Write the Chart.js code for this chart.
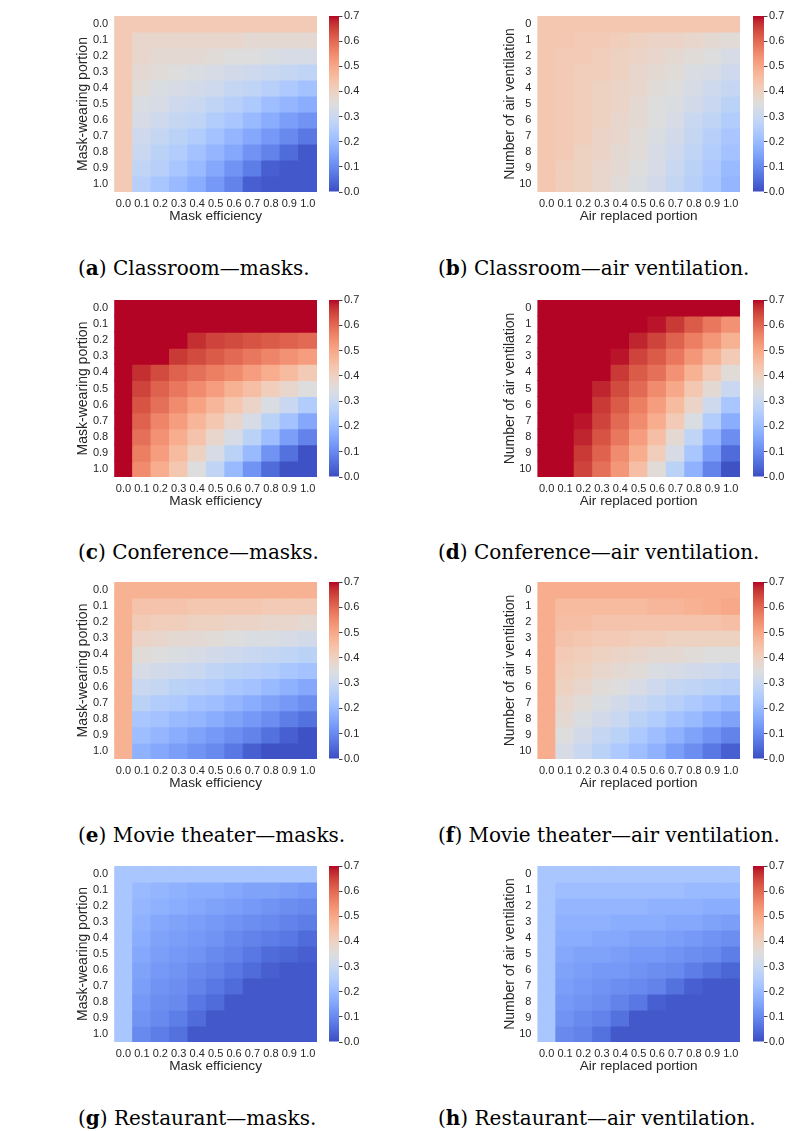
<!DOCTYPE html>
<html>
<head>
<meta charset="utf-8">
<script src="https://cdn.jsdelivr.net/npm/chart.js@4.4.1/dist/chart.umd.min.js"></script>
<style>
  html, body { margin: 0; padding: 0; background: #fff; }
  #page { position: relative; width: 793px; height: 1131px; overflow: hidden; }
  canvas { position: absolute; }
  .cap { position: absolute; font-family: "DejaVu Serif", serif; font-size: 20px; line-height: 24px; color: #000; white-space: nowrap; }
</style>
</head>
<body>
<div id="page"></div>
<script>
// --- tick labels ---
const portionTicks = ['0.0', '0.1', '0.2', '0.3', '0.4', '0.5', '0.6', '0.7', '0.8', '0.9', '1.0'];
const ventCountTicks = ['0', '1', '2', '3', '4', '5', '6', '7', '8', '9', '10'];
const colorbarTicks = [0.0, 0.1, 0.2, 0.3, 0.4, 0.5, 0.6, 0.7];

// --- values (rows top -> bottom, columns left -> right) ---
const classroomMasks = [
  [0.42, 0.42, 0.42, 0.42, 0.42, 0.42, 0.42, 0.42, 0.42, 0.42, 0.42],
  [0.42, 0.38, 0.38, 0.38, 0.38, 0.38, 0.38, 0.37, 0.37, 0.37, 0.37],
  [0.42, 0.38, 0.37, 0.37, 0.37, 0.36, 0.35, 0.35, 0.34, 0.33, 0.33],
  [0.42, 0.37, 0.36, 0.35, 0.34, 0.33, 0.32, 0.31, 0.30, 0.29, 0.28],
  [0.42, 0.36, 0.34, 0.33, 0.32, 0.31, 0.29, 0.28, 0.26, 0.24, 0.22],
  [0.42, 0.34, 0.33, 0.31, 0.30, 0.28, 0.26, 0.24, 0.21, 0.19, 0.17],
  [0.42, 0.33, 0.31, 0.29, 0.28, 0.25, 0.23, 0.20, 0.17, 0.14, 0.12],
  [0.42, 0.31, 0.29, 0.27, 0.25, 0.22, 0.19, 0.16, 0.13, 0.10, 0.07],
  [0.42, 0.30, 0.27, 0.25, 0.22, 0.19, 0.16, 0.12, 0.09, 0.05, 0.02],
  [0.42, 0.28, 0.26, 0.23, 0.20, 0.16, 0.12, 0.08, 0.03, 0.02, 0.02],
  [0.42, 0.26, 0.23, 0.20, 0.17, 0.13, 0.09, 0.03, 0.02, 0.02, 0.02]
];
const classroomVent = [
  [0.43, 0.43, 0.43, 0.43, 0.43, 0.43, 0.43, 0.43, 0.43, 0.43, 0.43],
  [0.43, 0.43, 0.42, 0.42, 0.41, 0.40, 0.39, 0.39, 0.38, 0.37, 0.36],
  [0.43, 0.42, 0.42, 0.41, 0.40, 0.39, 0.38, 0.37, 0.36, 0.35, 0.33],
  [0.43, 0.42, 0.41, 0.41, 0.40, 0.38, 0.37, 0.36, 0.34, 0.33, 0.31],
  [0.43, 0.42, 0.41, 0.40, 0.39, 0.38, 0.36, 0.35, 0.33, 0.31, 0.29],
  [0.43, 0.42, 0.41, 0.40, 0.39, 0.37, 0.35, 0.34, 0.32, 0.30, 0.27],
  [0.43, 0.42, 0.41, 0.40, 0.38, 0.37, 0.35, 0.33, 0.30, 0.28, 0.25],
  [0.43, 0.42, 0.41, 0.39, 0.38, 0.36, 0.34, 0.32, 0.29, 0.26, 0.23],
  [0.43, 0.42, 0.40, 0.39, 0.37, 0.36, 0.33, 0.31, 0.28, 0.25, 0.22],
  [0.43, 0.41, 0.40, 0.38, 0.37, 0.35, 0.33, 0.30, 0.27, 0.24, 0.20],
  [0.43, 0.41, 0.40, 0.38, 0.36, 0.34, 0.32, 0.29, 0.26, 0.23, 0.19]
];
const conferenceMasks = [
  [0.70, 0.70, 0.70, 0.70, 0.70, 0.70, 0.70, 0.70, 0.70, 0.70, 0.70],
  [0.70, 0.70, 0.70, 0.70, 0.70, 0.70, 0.70, 0.70, 0.70, 0.70, 0.70],
  [0.70, 0.70, 0.70, 0.70, 0.67, 0.65, 0.64, 0.63, 0.62, 0.61, 0.60],
  [0.70, 0.70, 0.70, 0.66, 0.64, 0.62, 0.60, 0.58, 0.56, 0.54, 0.52],
  [0.70, 0.67, 0.64, 0.61, 0.59, 0.57, 0.55, 0.52, 0.49, 0.46, 0.42],
  [0.70, 0.65, 0.61, 0.58, 0.55, 0.52, 0.48, 0.45, 0.41, 0.38, 0.35],
  [0.70, 0.63, 0.59, 0.55, 0.51, 0.47, 0.43, 0.39, 0.34, 0.30, 0.25],
  [0.70, 0.61, 0.56, 0.52, 0.47, 0.43, 0.38, 0.33, 0.27, 0.22, 0.16],
  [0.70, 0.59, 0.54, 0.49, 0.44, 0.38, 0.33, 0.27, 0.21, 0.14, 0.09],
  [0.70, 0.57, 0.52, 0.46, 0.40, 0.33, 0.27, 0.20, 0.12, 0.06, 0.01],
  [0.70, 0.55, 0.49, 0.43, 0.35, 0.28, 0.20, 0.12, 0.05, 0.01, 0.01]
];
const conferenceVent = [
  [0.70, 0.70, 0.70, 0.70, 0.70, 0.70, 0.70, 0.70, 0.70, 0.70, 0.70],
  [0.70, 0.70, 0.70, 0.70, 0.70, 0.70, 0.69, 0.66, 0.62, 0.58, 0.54],
  [0.70, 0.70, 0.70, 0.70, 0.70, 0.68, 0.65, 0.61, 0.57, 0.53, 0.48],
  [0.70, 0.70, 0.70, 0.70, 0.69, 0.65, 0.62, 0.58, 0.53, 0.48, 0.42],
  [0.70, 0.70, 0.70, 0.70, 0.66, 0.62, 0.59, 0.54, 0.48, 0.42, 0.36],
  [0.70, 0.70, 0.70, 0.68, 0.64, 0.60, 0.55, 0.50, 0.43, 0.37, 0.30],
  [0.70, 0.70, 0.70, 0.66, 0.62, 0.57, 0.52, 0.46, 0.39, 0.31, 0.23],
  [0.70, 0.70, 0.69, 0.65, 0.60, 0.55, 0.49, 0.42, 0.34, 0.25, 0.17],
  [0.70, 0.70, 0.68, 0.63, 0.58, 0.52, 0.45, 0.37, 0.28, 0.19, 0.11],
  [0.70, 0.70, 0.66, 0.61, 0.55, 0.49, 0.41, 0.33, 0.23, 0.14, 0.05],
  [0.70, 0.70, 0.65, 0.59, 0.53, 0.45, 0.36, 0.27, 0.18, 0.09, 0.01]
];
const movieMasks = [
  [0.48, 0.48, 0.48, 0.48, 0.48, 0.48, 0.48, 0.48, 0.48, 0.48, 0.48],
  [0.48, 0.44, 0.44, 0.44, 0.43, 0.43, 0.43, 0.43, 0.42, 0.42, 0.42],
  [0.48, 0.42, 0.41, 0.41, 0.40, 0.40, 0.39, 0.39, 0.38, 0.38, 0.37],
  [0.48, 0.39, 0.38, 0.37, 0.37, 0.36, 0.35, 0.34, 0.34, 0.33, 0.32],
  [0.48, 0.36, 0.35, 0.34, 0.33, 0.32, 0.31, 0.30, 0.29, 0.28, 0.27],
  [0.48, 0.33, 0.32, 0.31, 0.30, 0.28, 0.27, 0.26, 0.25, 0.23, 0.22],
  [0.48, 0.30, 0.29, 0.27, 0.26, 0.25, 0.23, 0.22, 0.20, 0.18, 0.16],
  [0.48, 0.27, 0.25, 0.24, 0.22, 0.21, 0.19, 0.17, 0.15, 0.13, 0.11],
  [0.48, 0.23, 0.22, 0.20, 0.19, 0.17, 0.15, 0.13, 0.11, 0.08, 0.06],
  [0.48, 0.21, 0.19, 0.17, 0.15, 0.13, 0.11, 0.09, 0.06, 0.03, 0.01],
  [0.48, 0.18, 0.16, 0.14, 0.12, 0.10, 0.07, 0.03, 0.01, 0.01, 0.01]
];
const movieVent = [
  [0.49, 0.49, 0.49, 0.49, 0.49, 0.49, 0.49, 0.49, 0.49, 0.49, 0.49],
  [0.49, 0.46, 0.46, 0.46, 0.46, 0.46, 0.47, 0.47, 0.48, 0.49, 0.50],
  [0.49, 0.45, 0.45, 0.44, 0.44, 0.44, 0.44, 0.44, 0.44, 0.44, 0.45],
  [0.49, 0.44, 0.43, 0.42, 0.42, 0.41, 0.41, 0.40, 0.40, 0.40, 0.40],
  [0.49, 0.42, 0.41, 0.40, 0.39, 0.38, 0.37, 0.37, 0.36, 0.35, 0.35],
  [0.49, 0.41, 0.40, 0.38, 0.37, 0.36, 0.34, 0.33, 0.32, 0.31, 0.30],
  [0.49, 0.40, 0.38, 0.36, 0.35, 0.33, 0.31, 0.29, 0.28, 0.27, 0.26],
  [0.49, 0.38, 0.36, 0.34, 0.32, 0.30, 0.28, 0.26, 0.24, 0.22, 0.20],
  [0.49, 0.37, 0.34, 0.32, 0.30, 0.27, 0.25, 0.22, 0.20, 0.17, 0.15],
  [0.49, 0.35, 0.32, 0.29, 0.27, 0.24, 0.21, 0.18, 0.15, 0.12, 0.09],
  [0.49, 0.33, 0.30, 0.27, 0.24, 0.21, 0.18, 0.14, 0.11, 0.07, 0.03]
];
const restaurantMasks = [
  [0.23, 0.23, 0.23, 0.23, 0.23, 0.23, 0.23, 0.23, 0.23, 0.23, 0.23],
  [0.23, 0.20, 0.19, 0.18, 0.17, 0.17, 0.16, 0.15, 0.15, 0.14, 0.13],
  [0.23, 0.19, 0.18, 0.17, 0.16, 0.15, 0.14, 0.13, 0.12, 0.11, 0.10],
  [0.23, 0.18, 0.16, 0.15, 0.14, 0.13, 0.12, 0.11, 0.10, 0.09, 0.08],
  [0.23, 0.17, 0.15, 0.14, 0.13, 0.12, 0.10, 0.09, 0.08, 0.07, 0.05],
  [0.23, 0.16, 0.14, 0.13, 0.12, 0.10, 0.09, 0.07, 0.05, 0.04, 0.03],
  [0.23, 0.15, 0.13, 0.12, 0.10, 0.09, 0.07, 0.05, 0.03, 0.02, 0.02],
  [0.23, 0.14, 0.12, 0.11, 0.09, 0.07, 0.05, 0.02, 0.02, 0.02, 0.02],
  [0.23, 0.13, 0.11, 0.10, 0.07, 0.05, 0.02, 0.02, 0.02, 0.02, 0.02],
  [0.23, 0.12, 0.10, 0.08, 0.05, 0.02, 0.02, 0.02, 0.02, 0.02, 0.02],
  [0.23, 0.10, 0.08, 0.06, 0.02, 0.02, 0.02, 0.02, 0.02, 0.02, 0.02]
];
const restaurantVent = [
  [0.23, 0.23, 0.23, 0.23, 0.23, 0.23, 0.23, 0.23, 0.23, 0.23, 0.23],
  [0.23, 0.21, 0.21, 0.21, 0.21, 0.21, 0.21, 0.21, 0.20, 0.20, 0.20],
  [0.23, 0.19, 0.19, 0.19, 0.19, 0.19, 0.18, 0.18, 0.18, 0.17, 0.17],
  [0.23, 0.18, 0.18, 0.18, 0.17, 0.17, 0.17, 0.16, 0.16, 0.15, 0.14],
  [0.23, 0.17, 0.17, 0.16, 0.16, 0.15, 0.15, 0.14, 0.13, 0.12, 0.11],
  [0.23, 0.16, 0.15, 0.15, 0.14, 0.13, 0.13, 0.12, 0.11, 0.10, 0.08],
  [0.23, 0.15, 0.14, 0.13, 0.13, 0.12, 0.11, 0.10, 0.08, 0.06, 0.04],
  [0.23, 0.14, 0.13, 0.12, 0.11, 0.10, 0.09, 0.06, 0.03, 0.02, 0.02],
  [0.23, 0.13, 0.12, 0.11, 0.09, 0.07, 0.03, 0.02, 0.02, 0.02, 0.02],
  [0.23, 0.12, 0.10, 0.09, 0.06, 0.02, 0.02, 0.02, 0.02, 0.02, 0.02],
  [0.23, 0.10, 0.09, 0.06, 0.02, 0.02, 0.02, 0.02, 0.02, 0.02, 0.02]
];

// --- coolwarm colormap control points ---
const coolwarmStops = [
  [59, 76, 192], [68, 90, 204], [77, 104, 215], [87, 117, 225], [98, 130, 234],
  [108, 142, 241], [119, 154, 247], [130, 165, 251], [141, 176, 254], [152, 185, 255],
  [163, 194, 255], [174, 201, 253], [184, 208, 249], [194, 213, 244], [204, 217, 238],
  [213, 219, 230], [221, 221, 221], [229, 216, 209], [236, 211, 197], [241, 204, 184],
  [245, 196, 172], [247, 187, 159], [247, 177, 147], [247, 166, 134], [244, 154, 123],
  [241, 141, 111], [236, 127, 99], [229, 112, 89], [222, 96, 77], [213, 80, 66],
  [203, 62, 56], [192, 40, 47], [180, 4, 38]
];

// --- panel layout (pixel boxes of the cell area and colorbar) ---
const rowsY = [[16.3, 192.7], [300, 476.5], [582.3, 759.2], [866.3, 1042.7]];
const captionY = [268, 552, 835, 1118];
const panels = [
  { letter: 'a', name: 'Classroom—masks.', values: classroomMasks, vent: false, row: 0 },
  { letter: 'b', name: 'Classroom—air ventilation.', values: classroomVent, vent: true, row: 0 },
  { letter: 'c', name: 'Conference—masks.', values: conferenceMasks, vent: false, row: 1 },
  { letter: 'd', name: 'Conference—air ventilation.', values: conferenceVent, vent: true, row: 1 },
  { letter: 'e', name: 'Movie theater—masks.', values: movieMasks, vent: false, row: 2 },
  { letter: 'f', name: 'Movie theater—air ventilation.', values: movieVent, vent: true, row: 2 },
  { letter: 'g', name: 'Restaurant—masks.', values: restaurantMasks, vent: false, row: 3 },
  { letter: 'h', name: 'Restaurant—air ventilation.', values: restaurantVent, vent: true, row: 3 }
];

const TEXT = '#262626';
const SANS = '"Liberation Sans", Arial, sans-serif';
const vmax = colorbarTicks[colorbarTicks.length - 1];

function rgb(c) { return 'rgb(' + c[0] + ',' + c[1] + ',' + c[2] + ')'; }

function coolwarm(t) {
  t = Math.min(1, Math.max(0, t));
  const n = coolwarmStops.length;
  const s = t * (n - 1);
  const i = Math.min(Math.floor(s), n - 2);
  const f = s - i;
  const a = coolwarmStops[i], b = coolwarmStops[i + 1];
  return rgb(a.map((v, k) => Math.round(v + (b[k] - v) * f)));
}

const page = document.getElementById('page');

function addCanvas(left, top, w, h) {
  const cv = document.createElement('canvas');
  cv.width = w; cv.height = h;
  cv.style.left = left + 'px';
  cv.style.top = top + 'px';
  cv.style.width = w + 'px';
  cv.style.height = h + 'px';
  page.appendChild(cv);
  return cv;
}

function drawHeatmap(p) {
  const [y0, y1] = rowsY[p.row];
  const x0 = p.vent ? 537.5 : 114.3;
  const x1 = p.vent ? 740.5 : 316.7;
  const titleCx = p.vent ? 510.5 : 83.5;
  const yTitleSize = 14;
  const left = titleCx - yTitleSize * 0.6 - 3;
  // the linear y axis asks for (half label + tick padding) above the area
  const padTop = 14;
  const padRight = 6;
  const hx = 32;
  const w = Math.round(x1 - left + padRight);
  const h = Math.round(y1 - y0 + padTop + hx);
  const cv = addCanvas(left, y0 - padTop, w, h);

  const rowLabels = p.vent ? ventCountTicks : portionTicks;
  const datasets = p.values.map((row, r) => ({
    data: row.map(() => [r, r + 1]),
    backgroundColor: row.map(v => coolwarm(v / vmax)),
    borderWidth: 0,
    grouped: false,
    barPercentage: 1,
    categoryPercentage: 1,
    inflateAmount: 0.5
  }));

  new Chart(cv, {
    type: 'bar',
    data: { labels: portionTicks, datasets: datasets },
    options: {
      animation: false,
      responsive: false,
      devicePixelRatio: 1,
      layout: { padding: { top: padTop, left: 0, right: padRight, bottom: 0 } },
      plugins: { legend: { display: false }, tooltip: { enabled: false } },
      scales: {
        x: {
          grid: { display: false, drawTicks: false },
          border: { display: false },
          ticks: { autoSkip: false, maxRotation: 0, padding: 5, color: TEXT, font: { family: SANS, size: 11 } },
          title: { display: true, text: p.vent ? 'Air replaced portion' : 'Mask efficiency', color: TEXT,
                   font: { family: SANS, size: 13.6 }, padding: { top: 0, bottom: 0 } },
          afterFit: s => { s.height = hx; }
        },
        y: {
          type: 'linear', min: 0, max: rowLabels.length, reverse: true,
          grid: { display: false, drawTicks: false },
          border: { display: false },
          afterBuildTicks: s => { s.ticks = rowLabels.map((_, i) => ({ value: i + 0.5 })); },
          ticks: { autoSkip: false, padding: 6, color: TEXT, font: { family: SANS, size: 11 },
                   callback: (v, i) => rowLabels[i] },
          title: { display: true, text: p.vent ? 'Number of air ventilation' : 'Mask-wearing portion', color: TEXT,
                   font: { family: SANS, size: yTitleSize }, padding: { top: 3, bottom: 0 } },
          afterFit: s => { s.width = x0 - left; }
        }
      }
    }
  });
}

function drawColorbar(p) {
  const [y0, y1] = rowsY[p.row];
  const cx0 = p.vent ? 753.3 : 329.3;
  const cx1 = p.vent ? 764 : 339.3;
  const pad = 10;
  const axisW = 30;
  const w = Math.round(cx1 - cx0 + axisW);
  const h = Math.round(y1 - y0 + 2 * pad);
  const cv = addCanvas(cx0, y0 - pad, w, h);

  new Chart(cv, {
    type: 'bar',
    data: {
      labels: [''],
      datasets: [{
        data: [[colorbarTicks[0], vmax]],
        backgroundColor: ctx => {
          const area = ctx.chart.chartArea;
          if (!area) return rgb(coolwarmStops[16]);
          const g = ctx.chart.ctx.createLinearGradient(0, area.bottom, 0, area.top);
          coolwarmStops.forEach((c, i) => g.addColorStop(i / (coolwarmStops.length - 1), rgb(c)));
          return g;
        },
        borderWidth: 0,
        barPercentage: 1,
        categoryPercentage: 1,
        inflateAmount: 0
      }]
    },
    options: {
      animation: false,
      responsive: false,
      devicePixelRatio: 1,
      layout: { padding: { top: pad, bottom: pad, left: 0, right: 0 } },
      plugins: { legend: { display: false }, tooltip: { enabled: false } },
      scales: {
        x: { display: false },
        y: {
          position: 'right', min: colorbarTicks[0], max: vmax,
          grid: { drawOnChartArea: false, drawTicks: true, tickLength: 3.5, color: '#444', lineWidth: 1 },
          border: { display: false },
          afterBuildTicks: s => { s.ticks = colorbarTicks.map(v => ({ value: v })); },
          ticks: { padding: 1.5, color: TEXT, font: { family: SANS, size: 11 }, callback: v => Number(v).toFixed(1) },
          afterFit: s => { s.width = axisW; }
        }
      }
    }
  });
}

function drawCaption(p) {
  const d = document.createElement('div');
  d.className = 'cap';
  d.style.left = (p.vent ? 438 : 78) + 'px';
  d.style.top = (captionY[p.row] - 12) + 'px';
  d.innerHTML = '(<b>' + p.letter + '</b>) ' + p.name;
  page.appendChild(d);
}

panels.forEach(p => {
  drawHeatmap(p);
  drawColorbar(p);
  drawCaption(p);
});
</script>
</body>
</html>
